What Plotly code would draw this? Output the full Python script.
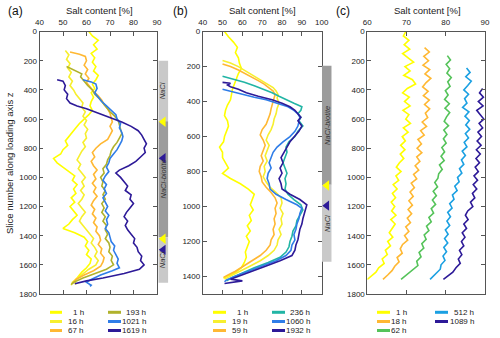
import plotly.graph_objects as go

W, H = 500, 338
FONT = "Arial, Liberation Sans, sans-serif"

# ---------------- panel (a) ----------------
a_1h_z = [0, 30, 60, 90, 120, 150, 180, 210, 240, 270, 300, 330, 360, 390, 420, 450, 480, 510, 540, 570,
          600, 630, 660, 690, 720, 750, 780, 810, 840, 870, 900, 930, 960, 990, 1020, 1050, 1080, 1110, 1140,
          1170, 1200, 1230, 1260, 1290, 1320, 1350, 1380, 1410, 1440, 1470, 1500, 1530, 1560, 1590, 1620,
          1650, 1680, 1710, 1735]
a_1h_s = [61, 62.5, 65, 63, 64.5, 62, 63.5, 62.5, 64, 63, 65, 64, 62.5, 63.5, 62, 63, 62, 61.5, 62.5, 61,
          59, 57, 55.5, 54, 52.5, 51, 52, 50, 49, 46, 47.5, 50, 52.5, 55, 54, 56, 54.5, 55.5, 53.5,
          55, 53, 54.5, 56, 54, 52.5, 50, 55, 59, 60.5, 59.5, 61, 60, 62, 61.5, 60,
          58, 56.5, 55, 55.5]

a_16h_z = [130, 160, 190, 220, 250, 280, 310, 340, 370, 400, 430, 460, 490, 520, 550, 580, 610, 640, 670,
           700, 730, 760, 790, 820, 850, 880, 910, 940, 970, 1000, 1030, 1060, 1090, 1120, 1150, 1180, 1210,
           1240, 1270, 1300, 1330, 1360, 1390, 1420, 1450, 1480, 1510, 1540, 1570, 1600, 1630, 1660, 1690,
           1720, 1740]
a_16h_s = [51, 52.5, 51.5, 53, 52, 53.5, 52.5, 54, 53, 54.5, 55.5, 57, 58.5, 58, 59.5, 58.5, 60, 59, 60.5,
           59.5, 60, 58.5, 59.5, 58, 57, 56, 57.5, 56.5, 58, 59.5, 58, 59, 57.5, 59, 58, 56.5, 58,
           59.5, 58, 57, 58.5, 60, 61.5, 63, 62, 63.5, 64.5, 63.5, 65, 64, 61, 58.5, 56,
           54, 53.5]

a_67h_z = [140, 155, 170, 200, 230, 260, 290, 320, 350, 380, 410, 440, 470, 500, 530, 560, 590, 620, 650,
           680, 710, 740, 770, 800, 830, 860, 890, 920, 950, 980, 1010, 1040, 1070, 1100, 1130, 1160, 1190,
           1220, 1250, 1280, 1310, 1340, 1370, 1400, 1430, 1460, 1490, 1520, 1550, 1580, 1610, 1640, 1670,
           1700, 1730]
a_67h_s = [53, 57, 59.5, 60, 59, 60.5, 59.5, 61, 60, 61.5, 63, 65, 66.5, 67.5, 69, 70, 70.5, 71, 70,
           71, 70, 69, 66, 64, 62.5, 63.5, 62, 63, 64.5, 63, 64, 62.5, 64, 63, 64.5, 63, 62,
           63.5, 62.5, 64, 63, 64.5, 64, 65.5, 66, 65, 66.5, 66, 67.5, 67, 66, 63, 59,
           55.5, 54]

a_193h_z = [240, 260, 290, 310, 340, 370, 400, 430, 460, 490, 520, 550, 580, 610, 640, 670, 700, 730, 760,
            790, 820, 850, 880, 910, 940, 970, 1000, 1030, 1060, 1090, 1120, 1150, 1180, 1210, 1240, 1270,
            1300, 1330, 1360, 1390, 1420, 1450, 1480, 1510, 1540, 1570, 1600, 1630, 1660, 1690, 1720, 1735]
a_193h_s = [51.5, 54, 58, 57.5, 59, 60.5, 62.5, 63.5, 65.5, 67, 68.5, 70, 72, 73.5, 74, 74.5, 75, 74, 73,
            71.5, 70.5, 70, 69, 68.5, 67, 67.5, 66, 67, 66.5, 68, 67, 68, 66.5, 67.5, 66.5, 68,
            67, 68.5, 68, 69, 68, 69.5, 70, 69.5, 71, 70.5, 71.5, 68.5, 63.5, 58.5, 54.5, 53.5]

a_1021h_z = [330, 345, 360, 390, 420, 450, 480, 510, 540, 570, 600, 630, 660, 690, 720, 750, 780, 810, 840,
             870, 900, 930, 960, 990, 1020, 1050, 1080, 1110, 1140, 1170, 1200, 1230, 1260, 1290, 1320, 1350,
             1380, 1410, 1440, 1470, 1500, 1530, 1560, 1590, 1620, 1640, 1670, 1700, 1720, 1740, 1748]
a_1021h_s = [58.5, 62, 64, 64.5, 63.5, 65, 66.5, 68.5, 70.5, 72.5, 73, 74.5, 74, 75, 75.5, 75, 74, 73, 71.5,
             70, 69.5, 68.5, 69.5, 68, 67, 68.5, 67.5, 68.5, 67, 68, 69, 68, 69.5, 68.5, 69, 68,
             69.5, 70, 70.5, 72, 71.5, 72.5, 73.5, 73, 74, 71, 66, 62, 60, 62, 61.5]

a_1619h_z = [330, 340, 370, 400, 430, 460, 490, 510, 530, 560, 590, 620, 650, 680, 710, 740, 770, 800, 830,
             860, 890, 920, 950, 970, 1000, 1030, 1060, 1090, 1120, 1150, 1180, 1210, 1240, 1270, 1300, 1330,
             1360, 1390, 1420, 1450, 1480, 1510, 1540, 1570, 1600, 1630, 1660, 1690, 1710, 1730]
a_1619h_s = [47.5, 50, 51, 50.5, 52, 51.5, 53, 56, 60, 65, 70, 75, 79, 82, 83.5, 84.5, 85.5, 84.5, 85,
             83, 81, 78, 74, 72.5, 74.5, 76, 77.5, 76.5, 79, 78.5, 80, 78.5, 77, 76, 77.5, 76.5,
             77.5, 79, 80.5, 80, 81.5, 82, 83.5, 83, 84.5, 82.5, 76, 67, 60, 55]

# ---------------- panel (b) ----------------
b_1h_z = [0, 30, 60, 90, 120, 150, 180, 210, 240, 270, 300, 330, 360, 390, 420, 450, 480, 510, 540, 570,
          600, 630, 660, 690, 720, 750, 780, 810, 840, 870, 900, 930, 960, 990, 1020, 1050, 1080, 1110,
          1140, 1170, 1200, 1230, 1260, 1290, 1320, 1350, 1380, 1400, 1410]
b_1h_s = [51, 53, 55.5, 57.5, 56.5, 58, 58.5, 59.5, 58, 57, 56, 55, 54.5, 54, 52.5, 51.5, 51, 52.5, 53, 52,
          51, 50.5, 48.5, 50, 50, 51.5, 53, 50, 54, 59, 63, 66, 65, 64, 65.5, 63.5, 64.5, 62.5,
          64, 62, 63.5, 62.5, 61.5, 62, 61, 59.5, 56, 52, 50.5]

b_19h_z = [165, 180, 200, 220, 240, 260, 280, 300, 320, 340, 360, 380, 410, 440, 470, 500, 530, 560, 590,
           620, 650, 680, 710, 740, 770, 800, 830, 860, 890, 920, 950, 980, 1010, 1040, 1070, 1100, 1130,
           1160, 1190, 1220, 1250, 1280, 1310, 1340, 1370, 1395, 1415]
b_19h_s = [50, 54, 58, 61, 64, 67, 70, 73, 75.5, 77, 78, 77.5, 78.5, 77.5, 77, 76, 75.5, 74.5, 73,
           72, 73.5, 72.5, 71.5, 72.5, 71, 71.5, 70.5, 72, 74, 77, 79.5, 80, 79, 80.5, 79.5, 80, 78.5,
           79.5, 78, 77.5, 76, 73, 69, 64, 58.5, 54, 51]

b_59h_z = [185, 200, 220, 240, 260, 280, 300, 320, 340, 360, 380, 410, 440, 470, 500, 530, 560, 590, 620,
           650, 680, 710, 740, 770, 800, 830, 860, 890, 920, 950, 980, 1010, 1040, 1070, 1100, 1130, 1160,
           1190, 1220, 1250, 1280, 1310, 1340, 1370, 1390, 1405]
b_59h_s = [50, 54, 58, 61.5, 65, 68, 71, 73.5, 75.5, 76.5, 76, 75, 74.5, 74, 73, 72, 70, 69, 70.5,
           71.5, 70.5, 69.5, 70.5, 69, 68.5, 69.5, 70, 72, 74.5, 76.5, 77.5, 76.5, 77, 76, 76.5, 75.5, 76,
           74.5, 74, 72, 69, 65, 61, 56.5, 53, 50.5]

b_236h_z = [255, 270, 290, 310, 330, 350, 370, 390, 410, 430, 450, 470, 490, 510, 540, 570, 600, 630, 660,
            690, 720, 750, 780, 810, 840, 870, 900, 930, 960, 990, 1020, 1050, 1080, 1110, 1140, 1170, 1200,
            1230, 1260, 1290, 1320, 1350, 1380, 1405, 1425]
b_236h_s = [50, 55, 61, 66, 71, 75, 78.5, 82, 86, 90, 89.5, 88, 89.5, 88.5, 90.5, 88, 86.5, 83.5, 82,
            82.5, 81.5, 80.5, 81.5, 82.5, 81.5, 82, 81.5, 83, 86, 89.5, 90.5, 89, 87.5, 87, 85.5, 85, 84,
            83.5, 82, 79, 73, 66, 59.5, 55, 52]

b_1060h_z = [330, 345, 360, 375, 390, 410, 430, 450, 470, 490, 510, 540, 570, 600, 630, 660, 690, 720, 750,
             780, 810, 840, 870, 900, 930, 960, 990, 1010, 1040, 1070, 1100, 1130, 1160, 1190, 1220, 1250,
             1280, 1310, 1340, 1370, 1400, 1420, 1430]
b_1060h_s = [50, 55, 60, 66, 72, 78, 83, 86, 88, 89, 88.5, 88, 86.5, 84, 80.5, 77.5, 75.5, 74.5, 73.5,
             74.5, 73, 72.5, 73.5, 74, 77, 82, 87.5, 90, 89, 88.5, 87.5, 87, 86, 86.5, 85, 84.5,
             82, 77, 70.5, 63, 56, 52, 51]

b_1932h_z = [290, 295, 305, 315, 330, 350, 370, 390, 410, 430, 450, 470, 490, 510, 540, 570, 600, 630, 660,
             690, 720, 750, 780, 810, 840, 870, 900, 930, 960, 990, 1010, 1040, 1070, 1100, 1130, 1160, 1190,
             1220, 1250, 1280, 1310, 1340, 1370, 1400, 1415, 1425, 1435, 1440]
b_1932h_s = [50, 54, 52.5, 54, 58, 62, 68, 75, 80, 84, 86.5, 88, 89.5, 88, 90, 88.5, 86, 84, 82.5,
             81, 79.5, 80.5, 79, 80, 78.5, 79.5, 80, 84, 89, 92.5, 92, 91, 90.5, 90, 89, 88.5, 88,
             87, 86.5, 85, 79, 72, 65, 58, 54, 60, 52, 51]

# ---------------- panel (c) ----------------
c_1h_z = [0, 30, 60, 90, 120, 150, 180, 210, 240, 270, 300, 330, 360, 390, 420, 450, 480, 510, 540, 570,
          600, 630, 660, 690, 720, 750, 780, 810, 840, 870, 900, 930, 960, 990, 1020, 1050, 1080, 1110,
          1140, 1170, 1200, 1230, 1260, 1290, 1320, 1350, 1380, 1410, 1440, 1470, 1500, 1530, 1560, 1590,
          1620, 1650, 1680, 1700]
c_1h_s = [69.8, 69.2, 70.6, 69.4, 70.8, 69.0, 70.4, 71.8, 69.6, 70.9, 69.3, 71.5, 72.3, 70.2, 69.0, 70.7,
          69.5, 70.9, 69.1, 70.6, 69.8, 71.0, 69.2, 70.4, 68.9, 69.7, 68.5, 69.6, 68.4, 69.3, 68.2, 67.4,
          68.6, 67.3, 68.0, 66.6, 67.6, 66.4, 67.2, 66.1, 67.0, 66.2, 67.3, 66.0, 67.1, 66.3, 65.6, 66.5,
          65.2, 65.9, 64.6, 65.1, 63.8, 64.3, 62.9, 62.2, 61.0, 60.0]

c_18h_z = [110, 140, 170, 200, 230, 260, 290, 320, 350, 380, 410, 440, 470, 500, 530, 560, 590, 620, 650,
           680, 710, 740, 770, 800, 830, 860, 890, 920, 950, 980, 1010, 1040, 1070, 1100, 1130, 1160, 1190,
           1220, 1250, 1280, 1310, 1340, 1370, 1400, 1430, 1460, 1490, 1520, 1550, 1580, 1610, 1640, 1670, 1700]
c_18h_s = [74.6, 75.8, 74.4, 75.6, 74.2, 75.9, 74.7, 76.2, 75.0, 74.1, 75.5, 74.3, 75.8, 74.6, 75.9, 74.8,
           75.4, 74.0, 75.1, 73.6, 74.5, 72.9, 73.8, 72.7, 73.9, 72.6, 73.4, 72.2, 73.1, 71.8, 72.6, 71.2,
           72.0, 70.9, 71.7, 70.6, 71.5, 70.4, 71.3, 70.2, 71.0, 69.8, 70.6, 69.5, 70.3, 69.0, 68.4, 68.9,
           67.6, 68.1, 67.0, 66.3, 65.2, 64.0]

c_62h_z = [165, 195, 225, 255, 285, 315, 345, 375, 405, 435, 465, 495, 525, 555, 585, 615, 645, 675, 705,
           735, 765, 795, 825, 855, 885, 915, 945, 975, 1005, 1035, 1065, 1095, 1125, 1155, 1185, 1215, 1245,
           1275, 1305, 1335, 1365, 1395, 1425, 1455, 1485, 1515, 1545, 1575, 1605, 1635, 1665, 1700]
c_62h_s = [80.4, 81.2, 80.1, 81.0, 80.3, 81.4, 80.5, 81.1, 79.9, 80.6, 79.7, 80.9, 79.8, 81.0, 80.2, 79.6,
           80.7, 79.5, 80.3, 79.4, 80.1, 79.0, 79.7, 78.8, 79.6, 78.4, 79.1, 78.2, 78.0, 77.2, 77.9, 76.8,
           77.6, 76.6, 77.4, 76.3, 76.9, 75.7, 76.3, 75.1, 75.7, 74.5, 75.0, 73.9, 74.4, 73.2, 73.7, 72.6,
           72.9, 71.6, 70.2, 68.6]

c_512h_z = [250, 280, 310, 340, 370, 400, 430, 460, 490, 520, 550, 580, 610, 640, 670, 700, 730, 760, 790,
            820, 850, 880, 910, 940, 970, 1000, 1030, 1060, 1090, 1120, 1150, 1180, 1210, 1240, 1270, 1300,
            1330, 1360, 1390, 1420, 1450, 1480, 1510, 1540, 1570, 1600, 1630, 1660, 1700]
c_512h_s = [85.3, 86.2, 85.1, 86.5, 85.6, 84.6, 85.8, 84.8, 85.4, 84.3, 85.9, 84.9, 86.0, 85.1, 86.1, 85.0,
            85.8, 84.7, 85.4, 84.2, 85.0, 84.0, 84.6, 83.5, 84.1, 83.0, 83.4, 82.3, 82.9, 81.7, 82.1, 81.0,
            81.6, 80.5, 81.2, 80.3, 81.0, 79.9, 80.6, 79.7, 80.5, 79.5, 80.2, 79.3, 79.8, 78.8, 78.6, 77.4, 76.0]

c_1089h_z = [390, 420, 450, 480, 510, 540, 570, 600, 630, 660, 690, 720, 750, 780, 810, 840, 870, 900, 930,
             960, 990, 1020, 1050, 1080, 1110, 1140, 1170, 1200, 1230, 1260, 1290, 1320, 1350, 1380, 1410,
             1440, 1470, 1500, 1530, 1560, 1590, 1620, 1650, 1680, 1700]
c_1089h_s = [89.4, 88.6, 89.6, 88.3, 89.5, 87.9, 88.8, 89.7, 88.5, 89.4, 88.2, 89.1, 88.0, 89.0, 87.8, 88.8,
             87.7, 88.6, 87.5, 88.3, 87.2, 88.1, 87.0, 87.9, 86.8, 87.4, 86.3, 86.9, 85.6, 85.0, 85.7, 84.6,
             85.3, 84.2, 84.9, 84.0, 84.6, 83.5, 84.1, 83.2, 83.7, 82.6, 81.8, 80.4, 79.4]

# phase bars next to (a) and (b): start / end of each zone along z
a_zone_start = [200, 615, 1410]
a_zone_end = [615, 1410, 1723]
a_zone_name = ["NaCl", "NaCl-biotite", "NaCl"]
a_tri_z = [618, 869, 1421, 1497]
b_zone_start = [195, 875]
b_zone_end = [875, 1315]
b_zone_name = ["NaCl-biotite", "NaCl"]
b_tri_z = [880, 995]

LIGHT, DARK = "#c9c9c9", "#9c9c9c"
YEL, YEL2, ORA = "#ffff00", "#f7ef2e", "#ffb833"
OLI, BLU, IND = "#b0b22c", "#2f7de8", "#2d1a98"
TEA, GRN, LBL = "#22b5a5", "#55c35a", "#1ba0e2"

panels = {
    "a": [("1 h", a_1h_z, a_1h_s, YEL), ("16 h", a_16h_z, a_16h_s, YEL2), ("67 h", a_67h_z, a_67h_s, ORA),
          ("193 h", a_193h_z, a_193h_s, OLI), ("1021 h", a_1021h_z, a_1021h_s, BLU),
          ("1619 h", a_1619h_z, a_1619h_s, IND)],
    "b": [("1 h", b_1h_z, b_1h_s, YEL), ("19 h", b_19h_z, b_19h_s, YEL2), ("59 h", b_59h_z, b_59h_s, ORA),
          ("236 h", b_236h_z, b_236h_s, TEA), ("1060 h", b_1060h_z, b_1060h_s, BLU),
          ("1932 h", b_1932h_z, b_1932h_s, IND)],
    "c": [("1 h", c_1h_z, c_1h_s, YEL), ("18 h", c_18h_z, c_18h_s, ORA), ("62 h", c_62h_z, c_62h_s, GRN),
          ("512 h", c_512h_z, c_512h_s, LBL), ("1089 h", c_1089h_z, c_1089h_s, IND)],
}
axis_of = {"a": ("x", "y"), "b": ("x2", "y2"), "c": ("x3", "y3")}


def px(p):
    return p / W


def py(p):
    return 1 - p / H


def label(x, y, text, size, xanchor="center", angle=0, color="#222"):
    fig.add_annotation(x=px(x), y=py(y), xref="paper", yref="paper", text=text, showarrow=False,
                       xanchor=xanchor, yanchor="middle", textangle=angle,
                       font=dict(size=size, color=color, family=FONT))


fig = go.Figure()

for key, series in panels.items():
    xa, ya = axis_of[key]
    for name, z, s, col in series:
        fig.add_trace(go.Scatter(x=s, y=z, mode="lines", name=name, xaxis=xa, yaxis=ya,
                                 line=dict(color=col, width=1.6), showlegend=False))

# zone bars and triangles
for zs, ze, names, tri, tri_cols, xa, ya in [
    (a_zone_start, a_zone_end, a_zone_name, a_tri_z, [YEL, IND, YEL, IND], "x4", "y"),
    (b_zone_start, b_zone_end, b_zone_name, b_tri_z, [YEL, IND], "x5", "y2"),
]:
    cols = [LIGHT if n == "NaCl" else DARK for n in names]
    fig.add_trace(go.Bar(x=[0.5] * len(zs), y=[e - s for s, e in zip(zs, ze)], base=zs, width=1,
                         marker=dict(color=cols, line_width=0), xaxis=xa, yaxis=ya, showlegend=False))
    fig.add_trace(go.Scatter(x=[0.5] * len(tri), y=tri, mode="markers", xaxis=xa, yaxis=ya,
                             marker=dict(symbol="triangle-left", size=9, color=tri_cols, line_width=0),
                             cliponaxis=False, showlegend=False))
    for s, e, n in zip(zs, ze, names):
        fig.add_annotation(x=0.5, y=(s + e) / 2, xref=xa, yref=ya, text="<i>%s</i>" % n, textangle=-90,
                           showarrow=False, xanchor="center", yanchor="middle",
                           font=dict(size=7.5, color="#333", family=FONT))

axis_common = dict(showline=True, linecolor="#555", linewidth=0.8, mirror="ticks", ticks="inside",
                   ticklen=4, tickcolor="#555", tickfont=dict(size=8, color="#222", family=FONT),
                   showgrid=False, zeroline=False, automargin=False)
xaxis_extra = dict(side="top", ticklabelstandoff=3)
ydom = [py(294), py(31.6)]

fig.update_layout(
    width=W, height=H, margin=dict(l=0, r=0, t=0, b=0),
    plot_bgcolor="white", paper_bgcolor="white", font=dict(family=FONT),
    xaxis=dict(domain=[px(39.5), px(157)], range=[40, 90], tickvals=[40, 50, 60, 70, 80, 90],
               anchor="y", **xaxis_extra, **axis_common),
    yaxis=dict(domain=ydom, range=[1800, 0], tickvals=list(range(0, 1801, 200)), anchor="x", **axis_common),
    xaxis2=dict(domain=[px(202.7), px(321.7)], range=[40, 100], tickvals=list(range(40, 101, 10)),
                anchor="y2", **xaxis_extra, **axis_common),
    yaxis2=dict(domain=ydom, range=[1500, 0], tickvals=list(range(0, 1401, 200)), anchor="x2", **axis_common),
    xaxis3=dict(domain=[px(367.3), px(485)], range=[60, 90], tickvals=[60, 70, 80, 90],
                anchor="y3", **xaxis_extra, **axis_common),
    yaxis3=dict(domain=ydom, range=[1800, 0], tickvals=list(range(0, 1801, 200)), anchor="x3", **axis_common),
    xaxis4=dict(domain=[px(158.3), px(168.3)], range=[0, 1], visible=False, anchor="y"),
    xaxis5=dict(domain=[px(321.9), px(331.7)], range=[0, 1], visible=False, anchor="y2"),
)

# axis titles and panel labels
for xc in [99, 262, 427]:
    label(xc, 10, "Salt content [%]", 9.5)
label(9, 163, "Slice number along loading axis z", 9.5, angle=-90)
for lab, xp in [("(a)", 15), ("(b)", 180), ("(c)", 343)]:
    label(xp, 11, lab, 12, color="#111")

# hand-made two-column legends under each panel
legend_cols = {"a": [(50, 62, 86), (108, 121, 148)],
               "b": [(213, 226, 250), (272, 285, 312)],
               "c": [(377, 390, 409), (435, 448, 476)]}
rows_y = [312.3, 321.5, 330.5]
for key, series in panels.items():
    for i, (name, z, s, col) in enumerate(series):
        c, r = divmod(i, 3)
        x0, x1, xt = legend_cols[key][c]
        y = rows_y[r]
        fig.add_shape(type="line", xref="paper", yref="paper", x0=px(x0), x1=px(x1), y0=py(y), y1=py(y),
                      line=dict(color=col, width=3))
        label(xt, y, name, 8, xanchor="right")

# page body has a default 8px margin; drop it so the figure sits at the window corner
fig.write_html("out.html", config={"displayModeBar": False},
               post_script="document.body.style.margin='0';")
